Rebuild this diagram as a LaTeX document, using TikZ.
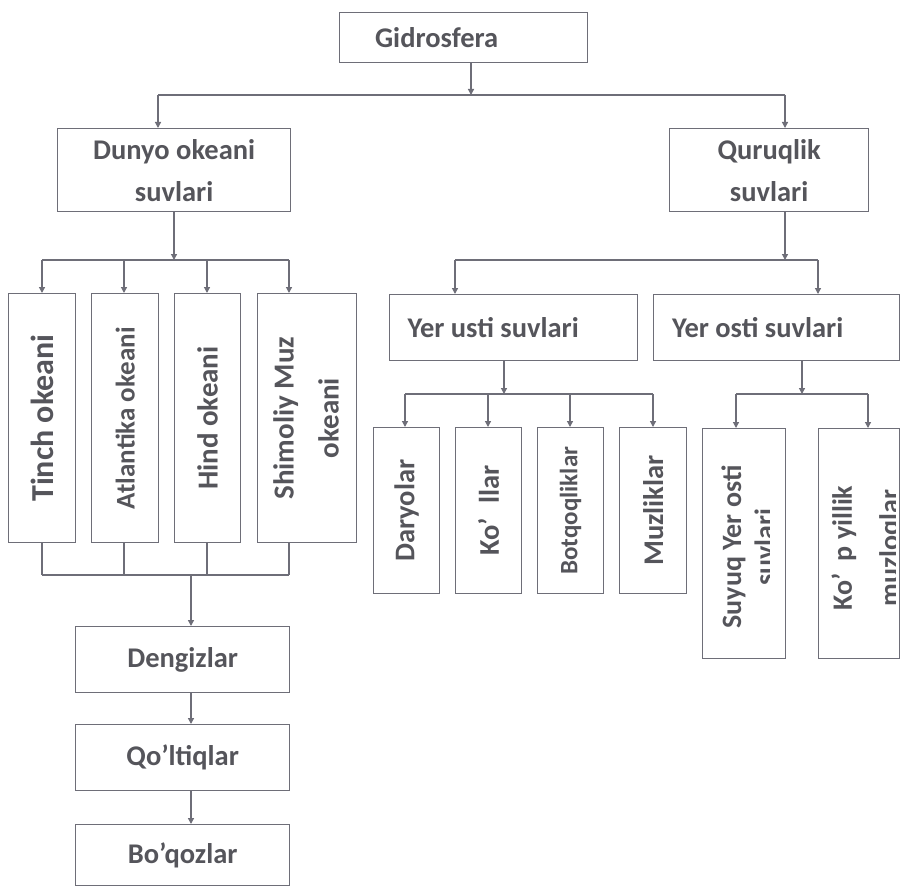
\documentclass[tikz,border=0pt]{standalone}
\usepackage{fontspec}
\setmainfont{Carlito}
\usetikzlibrary{arrows.meta}
\definecolor{edge}{HTML}{6E6E78}
\definecolor{ink}{HTML}{55555B}
\newcommand{\twolines}[2]{\begin{tabular}{@{}c@{}}#1\\#2\end{tabular}}
\newcommand{\fs}[2]{\fontsize{#1}{#2}\selectfont\bfseries}

\begin{document}
\begin{tikzpicture}[x=1pt, y=-1pt,
    box/.style={draw=edge, line width=1.3pt, inner sep=0pt, anchor=north west, text=ink, align=center, font=\fs{28.5}{42}},
    lbl/.style={inner sep=0pt, text=ink, font=\fs{28}{33}},
    link/.style={draw=edge, line width=1.3pt},
    arr/.style={link, -{Triangle[length=6pt, width=6pt]}}
]
    \useasboundingbox[fill=white] (0,0) rectangle (900,888);

    % top level
    \node[box, minimum width=248, minimum height=50] (gidro) at (339,12) {Gidrosfera\hspace{54pt}};
    \node[box, minimum width=233, minimum height=83] (dunyo) at (57,128) {Dunyo okeani\\suvlari};
    \node[box, minimum width=199, minimum height=83] (quruq) at (669,128) {Quruqlik\\suvlari};

    % oceans
    \node[box, minimum width=67, minimum height=249, font=\fs{32}{42}] (tinch) at (8,293) {\rotatebox{90}{Tinch okeani}};
    \node[box, minimum width=67, minimum height=249, font=\fs{27}{42}] (atlant) at (91,293) {\rotatebox{90}{Atlantika okeani}};
    \node[box, minimum width=66, minimum height=249, font=\fs{29}{42}] (hind) at (174,293) {\rotatebox{90}{Hind okeani}};
    \node[box, minimum width=99, minimum height=249, font=\fs{29}{45}] (shimol) at (257,293) {\rotatebox{90}{\twolines{Shimoliy Muz}{okeani}}};

    \node[box, minimum width=214, minimum height=66] (dengiz) at (75,626) {Dengizlar};
    \node[box, minimum width=214, minimum height=66] (qoltiq) at (75,724) {Qo’ltiqlar};
    \node[box, minimum width=214, minimum height=61] (boqoz) at (75,824) {Bo’qozlar};

    % land waters
    \node[box, minimum width=248, minimum height=66] (yerusti) at (389,294) {Yer usti suvlari\hspace{41pt}};
    \node[box, minimum width=246, minimum height=66] (yerosti) at (653,294) {Yer osti suvlari\hspace{38pt}};

    \node[box, minimum width=66, minimum height=166] (daryo) at (373,427) {\rotatebox{90}{Daryolar}};
    \node[box, minimum width=66, minimum height=166] (kollar) at (455,427) {\rotatebox{90}{Ko’\hspace{14pt}llar}};
    \node[box, minimum width=66, minimum height=166, font=\fs{25}{30}] (botq) at (537,427) {\rotatebox{90}{Botqoqliklar}};
    \node[box, minimum width=67, minimum height=166] (muzl) at (619,427) {\rotatebox{90}{Muzliklar}};

    \node[box, minimum width=83, minimum height=230] (suyuq) at (702,428) {};
    \node[box, minimum width=81, minimum height=230] (kopyil) at (818,428) {};
    \begin{scope}
        \clip (suyuq.north west) rectangle (769,658);
        \node[lbl] (suyuqt) at (751,547) {\rotatebox{90}{\twolines{Suyuq Yer osti}{suvlari}}};
    \end{scope}
    \begin{scope}
        \clip (kopyil.north west) rectangle (895,658);
        \node[lbl, font=\fs{28}{47}] (kopyilt) at (866,548) {\rotatebox{90}{\twolines{Ko’\hspace{12pt}p yillik}{muzloqlar}}};
    \end{scope}

    % junctions
    \coordinate (g0) at (471,95);  \coordinate (g0l) at (158,95);  \coordinate (g0r) at (785,95);
    \coordinate (g1) at (174,260); \coordinate (g1l) at (42,260);  \coordinate (g1r) at (289,260);
    \coordinate (g2) at (785,260); \coordinate (g2l) at (455,260); \coordinate (g2r) at (818,260);
    \coordinate (g3) at (504,394); \coordinate (g3l) at (405,394); \coordinate (g3r) at (653,394);
    \coordinate (g4) at (802,394); \coordinate (g4l) at (736,394); \coordinate (g4r) at (868,394);
    \coordinate (g5) at (191,575); \coordinate (g5l) at (42,575);  \coordinate (g5r) at (289,575);

    \draw[arr] (gidro.south -| g0) -- (g0);
    \draw[link] (g0l) -- (g0r);
    \draw[arr] (g0l) -- (g0l |- dunyo.north);
    \draw[arr] (g0r) -- (g0r |- quruq.north);

    \draw[arr] (dunyo.south -| g1) -- (g1);
    \draw[link] (g1l) -- (g1r);
    \foreach \n/\x in {tinch/42, atlant/124, hind/207, shimol/289}
        \draw[arr] (\x,0 |- g1) -- (\x,0 |- \n.north);

    \foreach \n/\x in {tinch/42, atlant/124, hind/207, shimol/289}
        \draw[link] (\x,0 |- \n.south) -- (\x,0 |- g5);
    \draw[link] (g5l) -- (g5r);
    \draw[arr] (g5) -- (g5 |- dengiz.north);
    \draw[arr] (dengiz.south -| g5) -- (g5 |- qoltiq.north);
    \draw[arr] (qoltiq.south -| g5) -- (g5 |- boqoz.north);

    \draw[arr] (quruq.south -| g2) -- (g2);
    \draw[link] (g2l) -- (g2r);
    \draw[arr] (g2l) -- (g2l |- yerusti.north);
    \draw[arr] (g2r) -- (g2r |- yerosti.north);

    \draw[arr] (yerusti.south -| g3) -- (g3);
    \draw[link] (g3l) -- (g3r);
    \foreach \n/\x in {daryo/405, kollar/488, botq/570, muzl/653}
        \draw[arr] (\x,0 |- g3) -- (\x,0 |- \n.north);

    \draw[arr] (yerosti.south -| g4) -- (g4);
    \draw[link] (g4l) -- (g4r);
    \draw[arr] (g4l) -- (g4l |- suyuq.north);
    \draw[arr] (g4r) -- (g4r |- kopyil.north);
\end{tikzpicture}
\end{document}
